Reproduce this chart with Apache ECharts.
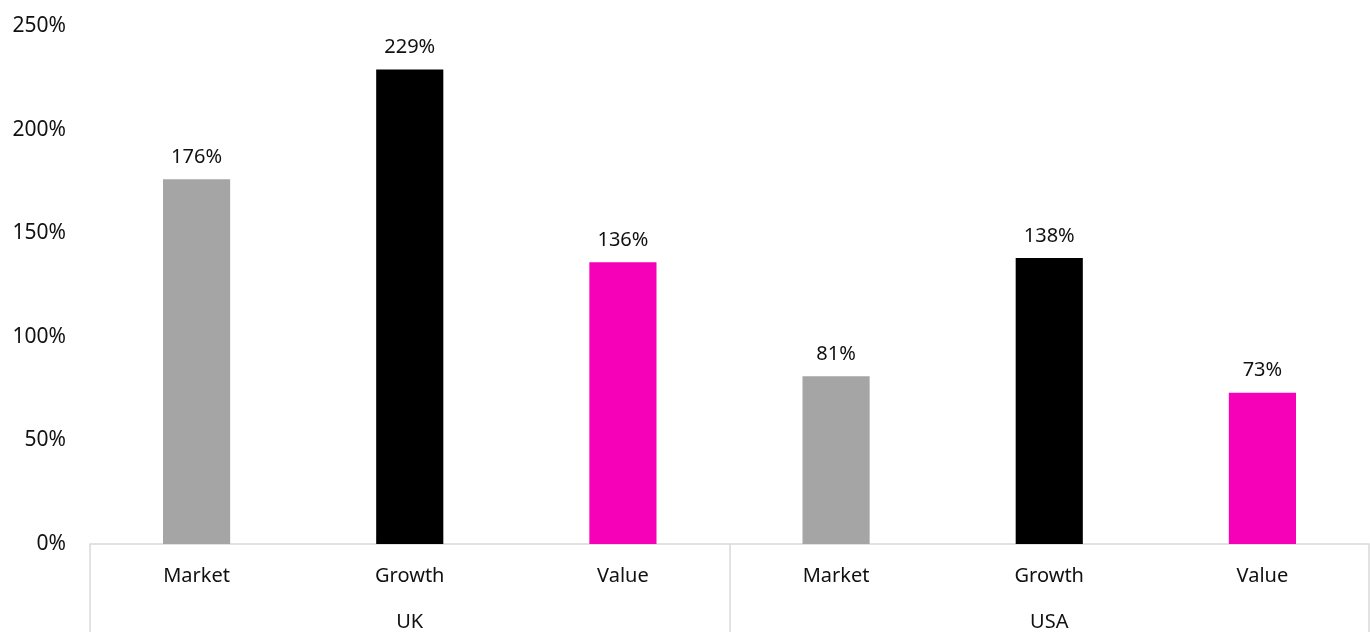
<!DOCTYPE html>
<html>
<head>
<meta charset="utf-8">
<script src="https://cdn.jsdelivr.net/npm/echarts@6/dist/echarts.min.js"></script>
<style>html,body{margin:0;padding:0;background:#fff}#c{width:1370px;height:632px}</style>
</head>
<body>
<div id="c"></div>
<script>
const categories = ['Market', 'Growth', 'Value', 'Market', 'Growth', 'Value'];
const groups = ['UK', 'USA'];
const values = [176, 229, 136, 81, 138, 73];
const barColors = ['#A5A5A5', '#000000', '#F600B8', '#A5A5A5', '#000000', '#F600B8'];
const yTicks = { min: 0, max: 250, interval: 50 };

const font = 'Noto Sans';
const chart = echarts.init(document.getElementById('c'));
chart.setOption({
  animation: false,
  grid: { left: 90, right: 1, top: 26, bottom: 88, containLabel: false },
  xAxis: [
    {
      type: 'category', data: categories, position: 'bottom',
      axisLine: { show: true, lineStyle: { color: '#D9D9D9', width: 1.5 } },
      axisTick: { show: false },
      axisLabel: { interval: 0, margin: 22, color: '#111', fontSize: 20, fontFamily: font }
    },
    {
      type: 'category', data: groups, position: 'bottom', offset: 0,
      axisLine: { show: false },
      axisTick: { show: true, length: 90, interval: 0, lineStyle: { color: '#D9D9D9', width: 1.5 } },
      axisLabel: { interval: 0, margin: 68, color: '#111', fontSize: 20, fontFamily: font }
    }
  ],
  yAxis: {
    type: 'value', min: yTicks.min, max: yTicks.max, interval: yTicks.interval,
    axisLine: { show: false }, axisTick: { show: false }, splitLine: { show: false },
    axisLabel: { formatter: '{value}%', margin: 24, color: '#111', fontSize: 21, fontFamily: font }
  },
  series: [{
    type: 'bar', xAxisIndex: 0,
    barWidth: '31.5%',
    data: values.map((v, i) => ({ value: v, itemStyle: { color: barColors[i] } })),
    label: { show: true, position: 'top', distance: 12, formatter: '{c}%', color: '#111', fontSize: 20, fontFamily: font }
  }]
});
</script>
</body>
</html>
